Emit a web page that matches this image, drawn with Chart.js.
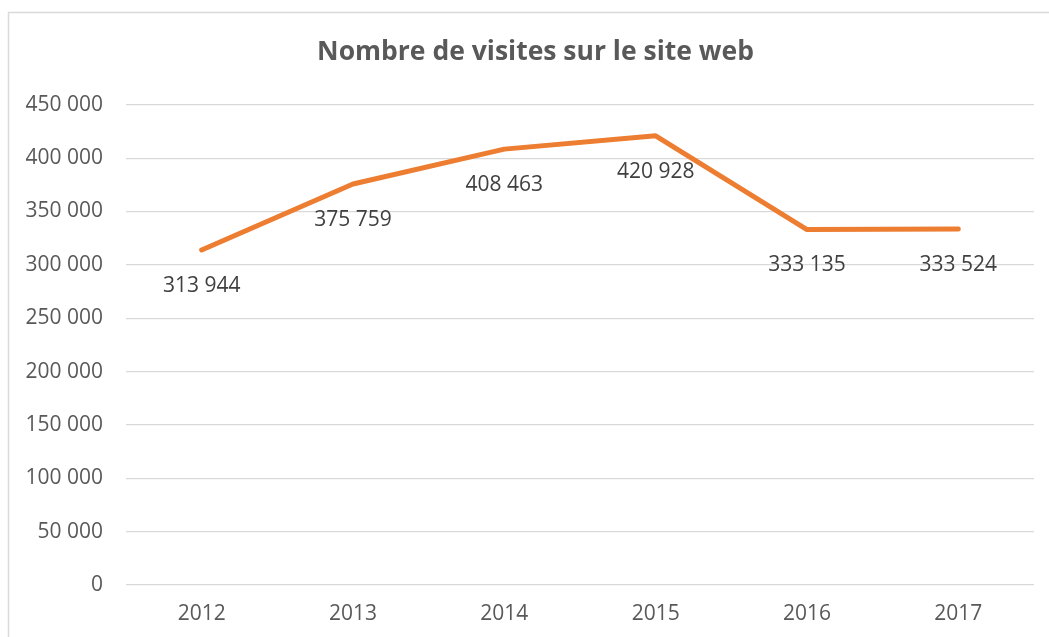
<!DOCTYPE html>
<html>
<head>
<meta charset="utf-8">
<script src="https://cdn.jsdelivr.net/npm/chart.js@4"></script>
<style>
  html, body { margin: 0; padding: 0; background: #ffffff; }
  #wrap { width: 1049px; height: 637px; position: relative; }
</style>
</head>
<body>
<div id="wrap"><canvas id="c"></canvas></div>
<script>
const categories = ['2012', '2013', '2014', '2015', '2016', '2017'];
const visits = [313944, 375759, 408463, 420928, 333135, 333524];
const yTicks = [0, 50000, 100000, 150000, 200000, 250000, 300000, 350000, 400000, 450000];
const chartTitle = 'Nombre de visites sur le site web';

const FONT = "'Open Sans', 'Liberation Sans', sans-serif";
const fmt = v => String(v).replace(/\B(?=(\d{3})+(?!\d))/g, ' ');

const frame = {
  id: 'frame',
  afterLayout(chart) {
    // the original chart frame extends past the right edge, so its title sits right of canvas centre
    if (chart.titleBlock) {
      chart.titleBlock.left += 18.5;
      chart.titleBlock.right += 18.5;
    }
  },
  beforeDraw(chart) {
    const ctx = chart.ctx;
    ctx.save();
    ctx.strokeStyle = '#d9d9d9';
    ctx.lineWidth = 1.5;
    ctx.beginPath();
    ctx.moveTo(8.5, chart.height);
    ctx.lineTo(8.5, 12.5);
    ctx.lineTo(chart.width, 12.5);
    ctx.stroke();
    ctx.restore();
  }
};

const dataLabels = {
  id: 'dataLabels',
  afterDatasetsDraw(chart) {
    const ctx = chart.ctx;
    const meta = chart.getDatasetMeta(0);
    ctx.save();
    ctx.font = '21px ' + FONT;
    ctx.fillStyle = '#404040';
    ctx.textAlign = 'center';
    ctx.textBaseline = 'middle';
    meta.data.forEach((pt, i) => {
      ctx.fillText(fmt(chart.data.datasets[0].data[i]), pt.x, pt.y + 36);
    });
    ctx.restore();
  }
};

new Chart(document.getElementById('c'), {
  type: 'line',
  data: {
    labels: categories,
    datasets: [{
      label: 'Visites',
      data: visits,
      borderColor: '#ED7D31',
      backgroundColor: '#ED7D31',
      borderWidth: 5,
      borderCapStyle: 'round',
      borderJoinStyle: 'round',
      pointRadius: 0,
      pointHoverRadius: 0,
      tension: 0,
      fill: false
    }]
  },
  options: {
    responsive: true,
    maintainAspectRatio: false,
    animation: false,
    layout: { padding: { left: 0, right: 15, top: 0, bottom: 0 } },
    plugins: {
      legend: { display: false },
      tooltip: { enabled: false },
      title: {
        display: true,
        text: chartTitle,
        color: '#595959',
        font: { family: FONT, size: 26.5, weight: 'bold', lineHeight: 1.2 },
        padding: { top: 37, bottom: 36 }
      }
    },
    scales: {
      x: {
        offset: true,
        grid: { display: false, drawTicks: false },
        border: { display: false },
        ticks: { color: '#595959', font: { family: FONT, size: 21 }, padding: 16, maxRotation: 0 },
        afterFit(scale) { scale.height = 52; }
      },
      y: {
        min: 0,
        max: 450000,
        afterBuildTicks(scale) { scale.ticks = yTicks.map(v => ({ value: v })); },
        grid: { color: '#d9d9d9', lineWidth: 1.3, drawTicks: false },
        border: { display: false },
        ticks: {
          color: '#595959',
          font: { family: FONT, size: 21 },
          padding: 23,
          callback: v => fmt(v)
        },
        afterFit(scale) { scale.width = 126; }
      }
    }
  },
  plugins: [frame, dataLabels]
});
</script>
</body>
</html>
